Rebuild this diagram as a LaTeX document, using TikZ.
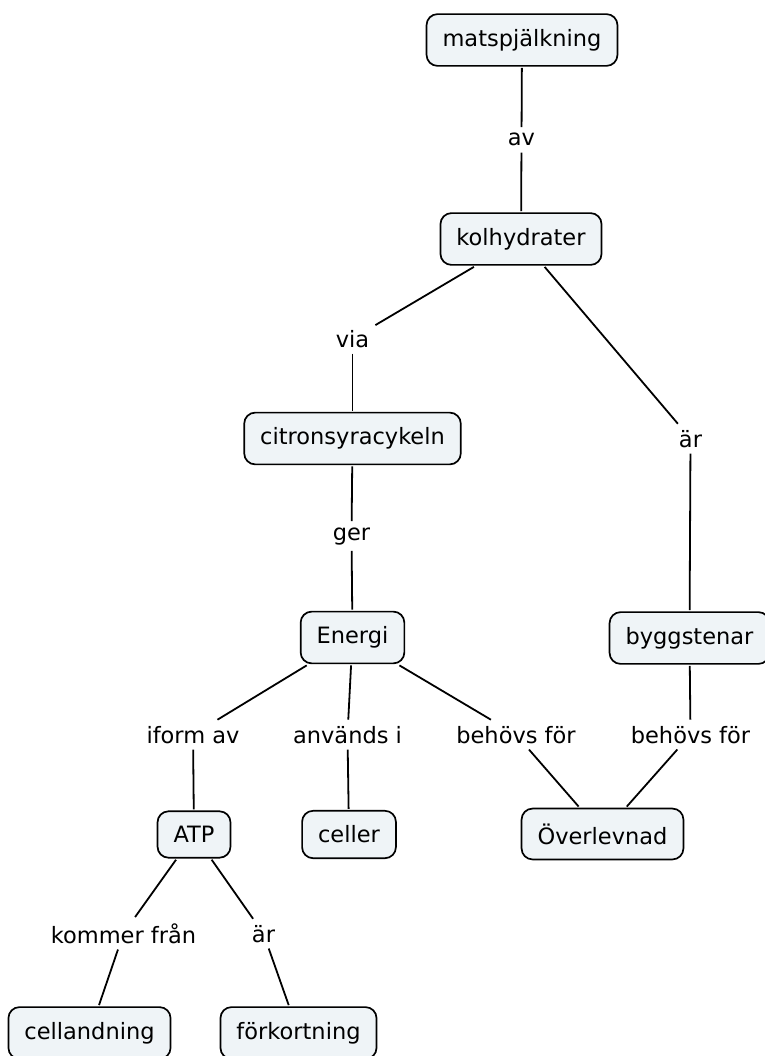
\documentclass[tikz,border=0pt]{standalone}
\usepackage{fontspec}
\setmainfont{DejaVu Sans}
\definecolor{boxfill}{RGB}{239,244,247}
\tikzset{
    %Define style for concept boxes
    concept/.style={
           rectangle,
           rounded corners=11pt,
           draw=black, line width=1.7pt,
           fill=boxfill,
           inner xsep=16pt,
           inner ysep=15pt,
           outer sep=2pt,
           font=\fontsize{22.5}{27}\selectfont,
           text centered},
    %Define style for linking words
    linkword/.style={
           inner sep=6pt,
           anchor=base,
           font=\fontsize{22.5}{27}\selectfont,
           text centered},
    % Define line style
    pil/.style={
           line width=1.8pt}
}
\begin{document}
\begin{tikzpicture}[x=1pt,y=-1pt]
\useasboundingbox (0,0) rectangle (764,1056);
 %concepts
\node[concept] (matsp) at (522,40) {matspjälkning};
\node[concept] (kolh) at (521,239) {kolhydrater};
\node[concept] (citron) at (352.5,438.5) {citronsyracykeln};
\node[concept] (energi) at (352.5,637.5) {Energi};
\node[concept] (bygg) at (689.5,638) {byggstenar};
\node[concept] (atp) at (194,834.5) {ATP};
\node[concept] (celler) at (349,834.5) {celler};
\node[concept] (overl) at (602.5,834) {Överlevnad};
\node[concept] (celland) at (89.5,1033) {cellandning};
\node[concept] (forkort) at (298.5,1033) {förkortning};
 %linking words
\node[linkword] (av) at (521.5,146) {av};
\node[linkword] (via) at (352.5,347) {via};
\node[linkword] (ar1) at (690.5,447) {är};
\node[linkword] (ger) at (351.5,540) {ger};
\node[linkword] (iform) at (193,743) {iform av};
\node[linkword] (anv) at (347.5,743) {används i};
\node[linkword] (behov1) at (516,743) {behövs för};
\node[linkword] (behov2) at (690.5,743) {behövs för};
\node[linkword] (kommer) at (123.5,943) {kommer från};
\node[linkword] (ar2) at (263.5,942) {är};
 %links
\path[pil]
    (matsp) edge (av)
    (av) edge (kolh)
    (kolh) edge (via) edge (ar1)
    (via) edge (citron)
    (ar1) edge (bygg)
    (citron) edge (ger)
    (ger) edge (energi)
    (energi) edge (iform) edge (anv) edge (behov1)
    (bygg) edge (behov2)
    (iform) edge (atp)
    (anv) edge (celler)
    (behov1) edge (overl)
    (behov2) edge (overl)
    (atp) edge (kommer) edge (ar2)
    (kommer) edge (celland)
    (ar2) edge (forkort);
\end{tikzpicture}
\end{document}
